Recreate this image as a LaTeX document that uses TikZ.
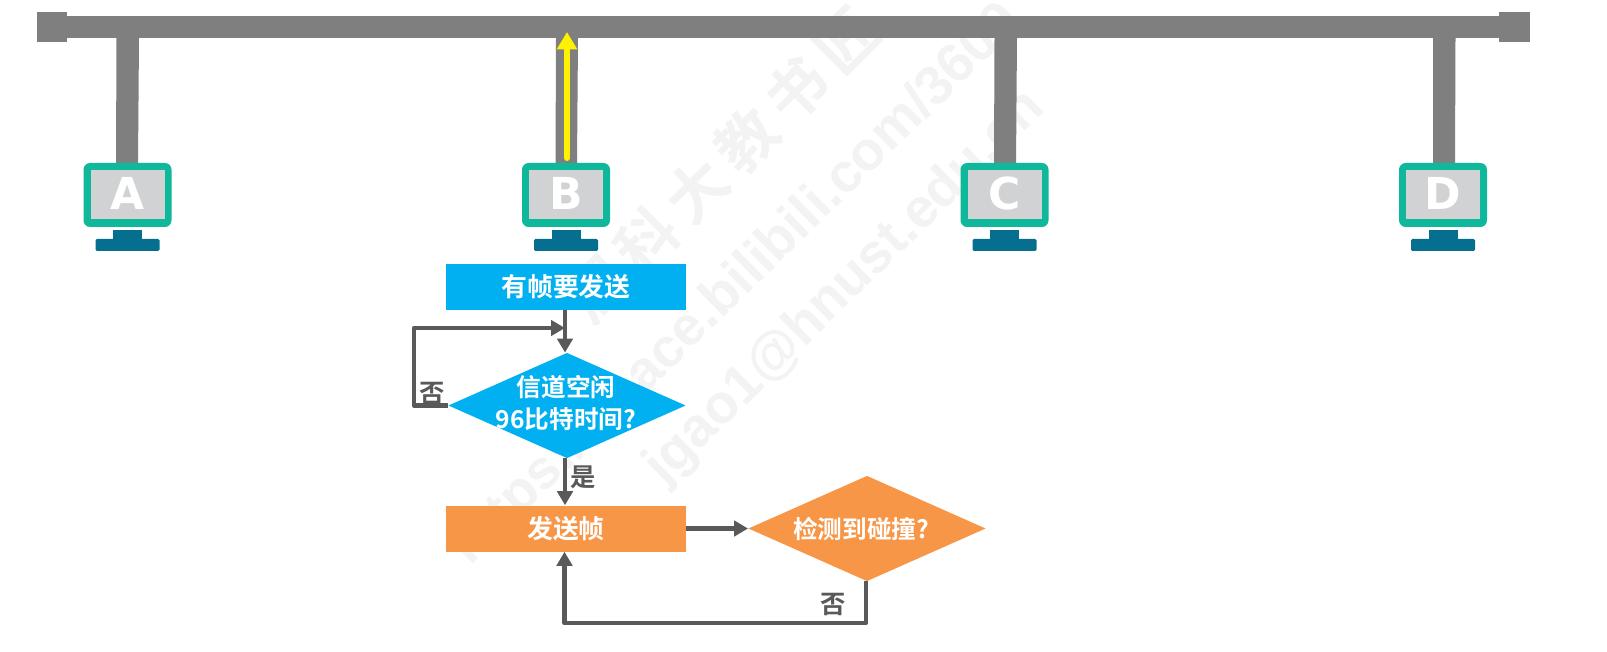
\documentclass[tikz,border=0pt]{standalone}
\usepackage{fontspec}
\setmainfont{Liberation Sans}
\newfontfamily\cjk{Noto Sans CJK SC}[BoldFont={Noto Sans CJK SC Bold}]
\newfontfamily\pcfont{DejaVu Sans}[BoldFont={DejaVu Sans Bold}]
\usetikzlibrary{arrows.meta,shapes.geometric}
\definecolor{busgray}{HTML}{7F7F7F}
\definecolor{screengray}{HTML}{D0D2D3}
\definecolor{frameteal}{HTML}{10B89B}
\definecolor{standblue}{HTML}{066F8F}
\definecolor{flowblue}{HTML}{00B0F0}
\definecolor{floworange}{HTML}{F79646}
\definecolor{linegray}{HTML}{595959}
\definecolor{markgray}{HTML}{F3F3F4}
\tikzset{
  x=0.75pt,y=-0.75pt,
  busline/.style={fill=busgray,draw=none},
  flowbox/.style={rectangle,draw=none,minimum width=180pt,minimum height=34.5pt,inner sep=0pt,text=white,font=\cjk\bfseries\fontsize{19.4}{24}\selectfont,align=center},
  flowdia/.style={diamond,aspect=2.26,draw=none,inner sep=0pt,minimum width=178pt,minimum height=79pt},
  diatext/.style={inner sep=0pt,text=white,font=\cjk\bfseries\fontsize{18.5}{24}\selectfont,align=center},
  conn/.style={draw=linegray,line width=3.5pt,-{Triangle[length=10.5pt,width=11.5pt]}},
  plainconn/.style={draw=linegray,line width=3.5pt},
  lab/.style={text=linegray,inner sep=0pt,font=\cjk\bfseries\fontsize{19}{20}\selectfont},
  wm/.style={text=markgray,inner sep=0pt,rotate=44.5,anchor=base west,font=\bfseries\fontsize{41}{41}\selectfont},
  pcname/.style={text=white,inner sep=0pt,font=\pcfont\bfseries\fontsize{33}{33}\selectfont},
}
\newcommand{\monitor}[2]{%
  \fill[standblue] (#1-14.5,230) rectangle (#1+14.5,240);
  \fill[standblue,rounded corners=1pt] (#1-32,239) rectangle (#1+32,251);
  \fill[frameteal,rounded corners=5pt] (#1-44,163) rectangle (#1+44,227);
  \fill[screengray] (#1-37,170) rectangle (#1+37,219);
  \node[pcname] (pc#2) at (#1,193.5) {#2};
}
\begin{document}
\begin{tikzpicture}
\useasboundingbox (0,0) rectangle (1607,652);
\fill[white] (0,0) rectangle (1607,652);
% watermark
\node[wm,anchor=center,rotate=0.5,font=\cjk\bfseries\fontsize{45}{45}\selectfont] (wm1) at (722,165) {湖\kern8pt 科\kern8pt 大\kern8pt 教\kern8pt 书\kern8pt 匠};
\node[wm] (wm2) at (470,567) {https://space.bilibili.com/3609};
\node[wm] (wm3) at (664,486) {jgao1@hnust.edu.cn};
% bus
\fill[busline] (37,16) rectangle (1530,38);
\fill[busline] (37,12) rectangle (67,42);
\fill[busline] (1499,12) rectangle (1530,42);
\fill[busline] (116.5,38) -- (139,38) -- (138,164) -- (116,164) -- cycle;
\fill[busline] (556,38) -- (578,38) -- (577,164) -- (555.5,164) -- cycle;
\fill[busline] (994.5,38) -- (1017,38) -- (1016,164) -- (994,164) -- cycle;
\fill[busline] (1433,38) -- (1455.5,38) -- (1455,164) -- (1433,164) -- cycle;
\monitor{127.5}{A}
\monitor{566}{B}
\monitor{1004.5}{C}
\monitor{1443}{D}
% signal
\coordinate (sigstart) at (567,158);
\coordinate (sigend) at (567,32);
\draw[yellow,line width=4.5pt,line cap=round,-{Triangle[length=13pt,width=14.5pt]}] (sigstart) -- (sigend);
% flow
\node[flowbox,fill=flowblue] (start) at (566,287) {有帧要发送};
\node[flowdia,fill=flowblue] (idle) at (567,405.5) {};
\node[diatext] (idletext) at (566,403) {信道空闲\\96比特时间?};
\node[flowbox,fill=floworange] (send) at (566,528.5) {发送帧};
\node[flowdia,fill=floworange] (coll) at (867,528.5) {};
\node[diatext] (colltext) at (861,529) {检测到碰撞?};
\coordinate (loopa) at (414,405.5);
\coordinate (loopb) at (414,328);
\coordinate (loopc) at (565,328);
\coordinate (loopd) at (866,623);
\coordinate (loope) at (564.5,623);
\draw[plainconn] (start.south -| loopc) -- (loopc);
\draw[conn] (loopc) -- (idle.north -| loopc);
\draw[conn,line join=round] (idle.west) -- (loopa) -- (loopb) -- (loopc);
\draw[conn] (idle.south -| loopc) -- (send.north -| loopc);
\draw[conn] (send.east) -- (coll.west);
\draw[conn,line join=round] (coll.south -| loopd) -- (loopd) -- (loope) -- (send.south -| loope);
\node[lab] (no1) at (432,393) {否};
\node[lab] (yes) at (583,477) {是};
\node[lab] (no2) at (833,604) {否};
\end{tikzpicture}
\end{document}
